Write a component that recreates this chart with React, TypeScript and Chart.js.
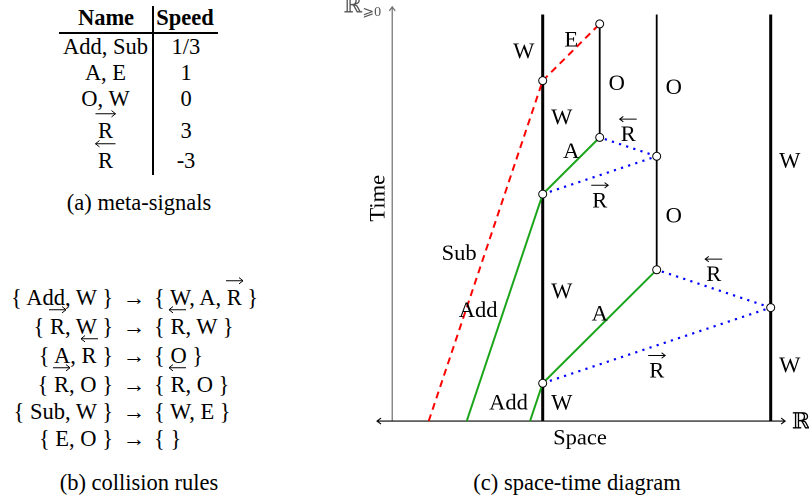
import React, { useEffect, useRef } from 'react';
import { Chart, registerables } from 'chart.js';
Chart.register(...registerables);

const SERIF = '"Liberation Serif", "Times New Roman", "DejaVu Serif", serif';
const MATHFONT = '"Liberation Serif", "DejaVu Serif", "DejaVu Sans", serif';
const FS = 22.5;

// ---------- (a) meta-signals table ----------
const tableHeader = ['Name', 'Speed'];
const signalNames = ['Add, Sub', 'A, E', 'O, W', 'R→', 'R←'];
const signalSpeeds = ['1/3', '1', '0', '3', '-3'];
const captionA = '(a) meta-signals';

// ---------- (b) collision rules ----------
const ruleLeft = ['{ Add, W }', '{ R→, W }', '{ A, R← }', '{ R→, O }', '{ Sub, W }', '{ E, O }'];
const ruleRight = ['{ W, A, R→ }', '{ R←, W }', '{ O }', '{ R←, O }', '{ W, E }', '{ }'];
const captionB = '(b) collision rules';

// ---------- (c) space-time diagram (space unit, time unit) ----------
const wallSegments = [
  [[0, 0], [0, 10.75]],
  [[6, 0], [6, 10.75]],
];
const obstacleSegments = [
  [[3, 4], [3, 10.75]],
  [[1.5, 7.5], [1.5, 10.5]],
];
const addSegments = [
  [[-1 / 3, 0], [0, 1]],
  [[-2, 0], [0, 6]],
];
const aSegments = [
  [[0, 1], [3, 4]],
  [[0, 6], [1.5, 7.5]],
];
const subSegments = [[[-3, 0], [0, 9]]];
const eSegments = [[[0, 9], [1.5, 10.5]]];
const rRightSegments = [
  [[0, 1], [6, 3]],
  [[0, 6], [3, 7]],
];
const rLeftSegments = [
  [[6, 3], [3, 4]],
  [[3, 7], [1.5, 7.5]],
];
const collisionPoints = [
  [0, 1], [3, 4], [6, 3], [0, 6], [3, 7], [1.5, 7.5], [0, 9], [1.5, 10.5],
];
const labelTexts = ['W', 'E', 'O', 'O', 'W', 'R←', 'A', 'W', 'R→', 'O', 'Sub', 'R←', 'W', 'Add', 'A', 'W', 'R→', 'Add', 'W'];
const labelX = [-0.5, 0.75, 1.95, 3.45, 0.5, 2.25, 0.75, 6.5, 1.5, 3.45, -2.2, 4.5, 0.5, -1.7, 1.5, 6.5, 3, -0.9, 0.5];
const labelT = [9.8, 10.1, 8.95, 8.85, 8.05, 7.6, 7.15, 6.9, 5.85, 5.45, 4.45, 3.9, 3.45, 2.95, 2.85, 1.5, 1.35, 0.5, 0.5];
const timeAxisX = -3.96;
const timeAxisTop = 10.95;
const spaceAxisRange = [-4.36, 6.38];
const captionC = '(c) space-time diagram';

function Arrowed({ dir, width = 18, children }: { dir: string; width?: number; children: any }) {
  const h = 8;
  const pts =
    dir === 'right'
      ? `${width - 4},${h / 2 - 3.2} ${width},${h / 2} ${width - 4},${h / 2 + 3.2}`
      : `4,${h / 2 - 3.2} 0,${h / 2} 4,${h / 2 + 3.2}`;
  return (
    <span style={{ position: 'relative', display: 'inline-block' }}>
      <svg
        width={width}
        height={h}
        style={{ position: 'absolute', left: '50%', marginLeft: -width / 2, top: -10, overflow: 'visible' }}
      >
        <line x1={0} y1={h / 2} x2={width} y2={h / 2} stroke="#000" strokeWidth={1} />
        <polyline points={pts} fill="none" stroke="#000" strokeWidth={1} />
      </svg>
      {children}
    </span>
  );
}

function MathText({ s, arrowWidth }: { s: string; arrowWidth?: number }) {
  const parts = s.split(/(R[→←])/);
  return (
    <>
      {parts.map((p, i) =>
        p === 'R→' ? (
          <Arrowed key={i} dir="right" width={arrowWidth}>R</Arrowed>
        ) : p === 'R←' ? (
          <Arrowed key={i} dir="left" width={arrowWidth}>R</Arrowed>
        ) : (
          <span key={i} style={{ whiteSpace: 'pre' }}>{p}</span>
        )
      )}
    </>
  );
}

function Txt({ x, y, children, bold }: { x: number; y: number; children: any; bold?: boolean }) {
  return (
    <div
      style={{
        position: 'absolute',
        left: x,
        top: y,
        transform: 'translate(-50%,-50%)',
        whiteSpace: 'nowrap',
        lineHeight: 1,
        fontSize: FS,
        fontWeight: bold ? 'bold' : 'normal',
      }}
    >
      {children}
    </div>
  );
}

const tableRowY = [46.5, 72.5, 99, 130.5, 160.5];
const ruleRowY = [298, 327, 356, 385, 412, 439];

function drawArrowHead(ctx: CanvasRenderingContext2D, x: number, y: number, angle: number, size: number) {
  ctx.beginPath();
  ctx.moveTo(x + size * Math.cos(angle + 2.5), y + size * Math.sin(angle + 2.5));
  ctx.lineTo(x, y);
  ctx.lineTo(x + size * Math.cos(angle - 2.5), y + size * Math.sin(angle - 2.5));
  ctx.stroke();
}

const CAP = FS * 0.331;

function drawR(ctx: CanvasRenderingContext2D, px: number, py: number, dir: 'right' | 'left') {
  ctx.fillText('R', px, py + CAP);
  const ay = py - 14.5;
  const half = 8.5;
  ctx.beginPath();
  ctx.moveTo(px - half, ay);
  ctx.lineTo(px + half, ay);
  ctx.lineWidth = 1;
  ctx.strokeStyle = '#000';
  ctx.stroke();
  if (dir === 'right') drawArrowHead(ctx, px + half, ay, 0, 4.5);
  else drawArrowHead(ctx, px - half, ay, Math.PI, 4.5);
}

const diagramPlugin = {
  id: 'spaceTimeDecor',
  beforeDatasetsDraw(chart: any) {
    const { ctx, scales } = chart;
    const xs = scales.x;
    const ys = scales.y;
    ctx.save();
    // time axis (grey)
    const tx = xs.getPixelForValue(timeAxisX);
    const ty0 = ys.getPixelForValue(0);
    const ty1 = ys.getPixelForValue(timeAxisTop);
    ctx.strokeStyle = '#6e6e6e';
    ctx.lineWidth = 1.2;
    ctx.beginPath();
    ctx.moveTo(tx, ty0);
    ctx.lineTo(tx, ty1);
    ctx.stroke();
    drawArrowHead(ctx, tx, ty1, -Math.PI / 2, 5);
    // space axis (black)
    const sx0 = xs.getPixelForValue(spaceAxisRange[0]);
    const sx1 = xs.getPixelForValue(spaceAxisRange[1]);
    ctx.strokeStyle = '#000';
    ctx.lineWidth = 1.1;
    ctx.beginPath();
    ctx.moveTo(sx0, ty0);
    ctx.lineTo(sx1, ty0);
    ctx.stroke();
    drawArrowHead(ctx, sx0, ty0, Math.PI, 5);
    drawArrowHead(ctx, sx1, ty0, 0, 5);
    ctx.restore();
  },
  afterDatasetsDraw(chart: any) {
    const { ctx, scales } = chart;
    const xs = scales.x;
    const ys = scales.y;
    ctx.save();
    ctx.fillStyle = '#000';
    ctx.font = `${FS}px ${SERIF}`;
    ctx.textAlign = 'center';
    ctx.textBaseline = 'alphabetic';
    labelTexts.forEach((t, i) => {
      const px = xs.getPixelForValue(labelX[i]);
      const py = ys.getPixelForValue(labelT[i]);
      if (t === 'R→') drawR(ctx, px, py, 'right');
      else if (t === 'R←') drawR(ctx, px, py, 'left');
      else ctx.fillText(t, px, py + CAP);
    });
    // axis titles
    const sp = xs.getPixelForValue(0.98);
    const spy = ys.getPixelForValue(-0.42);
    ctx.fillText('Space', sp, spy + CAP);
    const tmx = xs.getPixelForValue(-4.36);
    const tmy = ys.getPixelForValue(5.89);
    ctx.save();
    ctx.translate(tmx, tmy);
    ctx.rotate(-Math.PI / 2);
    ctx.fillText('Time', 0, CAP);
    ctx.restore();
    // ℝ at the end of the space axis
    ctx.font = `${FS}px ${MATHFONT}`;
    ctx.fillText('ℝ', xs.getPixelForValue(6.8), ys.getPixelForValue(0) + CAP);
    // ℝ⩾0 at the top of the time axis
    ctx.fillStyle = '#555';
    ctx.fillText('ℝ', xs.getPixelForValue(-5.0), ys.getPixelForValue(11.0) + CAP);
    ctx.font = `14px ${MATHFONT}`;
    ctx.fillText('⩾0', xs.getPixelForValue(-4.5), ys.getPixelForValue(10.84) + 5);
    ctx.restore();
  },
};

const toPts = (seg: number[][]) => seg.map(([x, y]) => ({ x, y }));

export default function App() {
  const ref = useRef<HTMLCanvasElement>(null);
  useEffect(() => {
    const canvas = ref.current;
    if (!canvas) return;
    const datasets: any[] = [];
    datasets.push({
      data: collisionPoints.map(([x, y]) => ({ x, y })),
      showLine: false,
      pointRadius: 4,
      pointBackgroundColor: '#ffffff',
      pointBorderColor: '#000000',
      pointBorderWidth: 1,
      order: 0,
    });
    const addSegs = (segs: number[][][], color: string, width: number, dash: number[], order: number) =>
      segs.forEach((s) =>
        datasets.push({
          data: toPts(s),
          showLine: true,
          pointRadius: 0,
          borderColor: color,
          borderWidth: width,
          borderDash: dash,
          borderCapStyle: 'butt',
          order,
        })
      );
    addSegs(addSegments, '#1ba51b', 2, [], 1);
    addSegs(aSegments, '#1ba51b', 2, [], 1);
    addSegs(subSegments, '#ff0000', 2, [7, 5], 1);
    addSegs(eSegments, '#ff0000', 2, [7, 5], 1);
    addSegs(rRightSegments, '#0000ff', 2.2, [2.2, 5.3], 1);
    addSegs(rLeftSegments, '#0000ff', 2.2, [2.2, 5.3], 1);
    addSegs(wallSegments, '#000000', 3, [], 2);
    addSegs(obstacleSegments, '#000000', 1.8, [], 2);

    const chart = new Chart(canvas, {
      type: 'scatter',
      data: { datasets },
      options: {
        animation: false,
        responsive: false,
        devicePixelRatio: 2,
        layout: { padding: { left: 31.7, right: 9.8, top: 3, bottom: 20 } },
        scales: {
          x: { type: 'linear', min: -4.5, max: 6.75, display: false },
          y: { type: 'linear', min: -0.5, max: 11, display: false },
        },
        plugins: { legend: { display: false }, tooltip: { enabled: false } },
      },
      plugins: [diagramPlugin],
    } as any);
    return () => chart.destroy();
  }, []);

  return (
    <div
      style={{
        position: 'absolute',
        left: 0,
        top: 0,
        width: 809,
        height: 502,
        background: '#fff',
        fontFamily: SERIF,
        color: '#000',
        overflow: 'hidden',
      }}
    >
      {/* (a) table */}
      <Txt x={106} y={17.5} bold>{tableHeader[0]}</Txt>
      <Txt x={185} y={17.5} bold>{tableHeader[1]}</Txt>
      <div style={{ position: 'absolute', left: 59, top: 32, width: 159, height: 2, background: '#000' }} />
      <div style={{ position: 'absolute', left: 152, top: 6, width: 2, height: 169, background: '#000' }} />
      {signalNames.map((n, i) => (
        <Txt key={'n' + i} x={105.5} y={tableRowY[i]}>
          <MathText s={n} arrowWidth={20} />
        </Txt>
      ))}
      {signalSpeeds.map((s, i) => (
        <Txt key={'s' + i} x={186} y={tableRowY[i]}>{s}</Txt>
      ))}
      <Txt x={139} y={203}>{captionA}</Txt>

      {/* (b) rules */}
      {ruleLeft.map((r, i) => (
        <div
          key={'l' + i}
          style={{
            position: 'absolute',
            left: 0,
            width: 113,
            top: ruleRowY[i],
            transform: 'translateY(-50%)',
            textAlign: 'right',
            lineHeight: 1,
            fontSize: FS,
            whiteSpace: 'nowrap',
          }}
        >
          <MathText s={r} arrowWidth={17} />
        </div>
      ))}
      {ruleLeft.map((_, i) => (
        <Txt key={'a' + i} x={134} y={ruleRowY[i]}>→</Txt>
      ))}
      {ruleRight.map((r, i) => (
        <div
          key={'r' + i}
          style={{
            position: 'absolute',
            left: 154,
            top: ruleRowY[i],
            transform: 'translateY(-50%)',
            lineHeight: 1,
            fontSize: FS,
            whiteSpace: 'nowrap',
          }}
        >
          <MathText s={r} arrowWidth={17} />
        </div>
      ))}
      <Txt x={139} y={483}>{captionB}</Txt>

      {/* (c) diagram */}
      <canvas
        ref={ref}
        width={469}
        height={460}
        style={{ position: 'absolute', left: 340, top: 0, width: 469, height: 460 }}
      />
      <Txt x={577} y={483}>{captionC}</Txt>
    </div>
  );
}
